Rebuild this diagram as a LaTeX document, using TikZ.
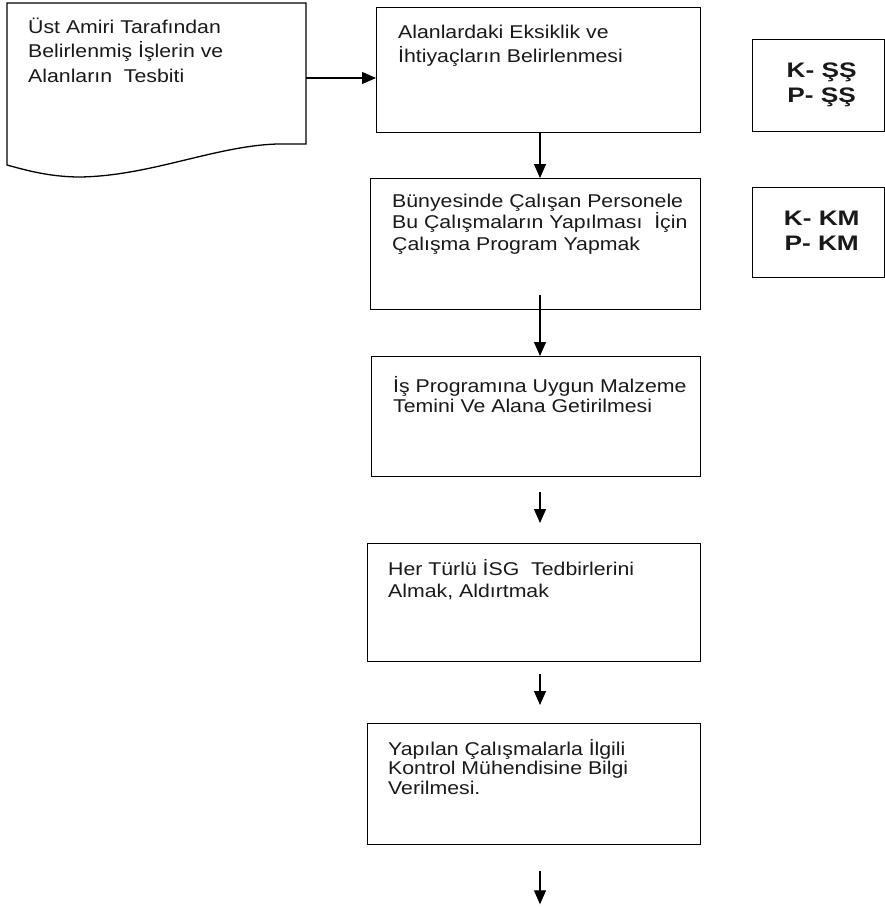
\documentclass[tikz,border=0pt]{standalone}
\usepackage{fontspec}
\setmainfont[FakeStretch=1.15]{Liberation Sans}
\newfontfamily\kfont[FakeStretch=1.25]{Liberation Sans}
\usetikzlibrary{arrows.meta,calc}
\newcommand\tlines[2]{\vtop{\baselineskip=#1pt\lineskiplimit=-50pt\relax #2}}
\newcommand\tln[1]{\hbox{#1}}
\newcommand\cln[1]{\hbox to 0pt{\hss #1\hss}}
\tikzset{
  boxed/.style={draw=black, line width=1.3pt, inner sep=0pt, anchor=north west},
  txt/.style={anchor=base west, inner sep=0pt, font=\fontsize{18.5}{21}\selectfont, text=black!90},
  ktxt/.style={anchor=base west, inner sep=0pt, font=\kfont\bfseries\fontsize{21}{25}\selectfont, text=black!90},
  arr/.style={line width=1.2pt, -{Triangle[width=12pt,length=14pt]}}
}
\begin{document}
\begin{tikzpicture}[x=1pt,y=-1pt]
\useasboundingbox (0,0) rectangle (885,908);
\fill[white] (0,0) rectangle (885,908);

% document shape
\draw[line width=1.3pt, line join=miter] (7,3) -- (306,3) -- (306,144) -- (277,144)
  .. controls (215,146) and (150,176) .. (80,177)
  .. controls (50,177) and (25,170) .. (7,165) -- cycle;
\coordinate (docR) at (306,78);

% process boxes
\node[boxed, minimum width=324pt, minimum height=125pt] (b1) at (376,7) {};
\node[boxed, minimum width=330pt, minimum height=131pt] (b2) at (370,178) {};
\node[boxed, minimum width=329pt, minimum height=120pt] (b3) at (371,356) {};
\node[boxed, minimum width=333pt, minimum height=118pt] (b4) at (367,543) {};
\node[boxed, minimum width=333pt, minimum height=121pt] (b5) at (367,723) {};

% responsibility boxes
\node[boxed, minimum width=132pt, minimum height=92pt] (k1) at (752,39) {};
\node[boxed, minimum width=132pt, minimum height=90pt] (k2) at (752,187) {};

% texts
\node[txt] (t0) at (28,33) {\tlines{24.5}{\tln{Üst Amiri Tarafından}\tln{Belirlenmiş İşlerin ve}\tln{Alanların~ Tesbiti}}};
\node[txt] (t1) at (398,38) {\tlines{24}{\tln{Alanlardaki Eksiklik ve}\tln{İhtiyaçların Belirlenmesi}}};
\node[txt] (t2) at (392,207) {\tlines{21.5}{\tln{Bünyesinde Çalışan Personele}\tln{Bu Çalışmaların Yapılması~ İçin}\tln{Çalışma Program Yapmak}}};
\node[txt] (t3) at (393,392) {\tlines{20.5}{\tln{İş Programına Uygun Malzeme}\tln{Temini Ve Alana Getirilmesi}}};
\node[txt] (t4) at (388,575) {\tlines{22}{\tln{Her Türlü İSG~ Tedbirlerini}\tln{Almak, Aldırtmak}}};
\node[txt] (t5) at (388,755) {\tlines{19.5}{\tln{Yapılan Çalışmalarla İlgili}\tln{Kontrol Mühendisine Bilgi}\tln{Verilmesi.}}};
\node[ktxt] (tk1) at (821,77) {\tlines{25}{\cln{K- ŞŞ}\cln{P- ŞŞ}}};
\node[ktxt] (tk2) at (821,225) {\tlines{25}{\cln{K- KM}\cln{P- KM}}};

% connectors
\coordinate (ax) at (540,0);
\draw[arr] (docR) -- (docR -| b1.west);
\draw[arr] (ax |- b1.south) -- (ax |- b2.north);
\draw[arr] ($(ax |- b2.south)+(0,-15)$) -- (ax |- b3.north);
\coordinate (f1a) at ($(ax |- b3.south)+(0,15)$);
\coordinate (f1b) at ($(ax |- b4.north)+(0,-20)$);
\draw[arr] (f1a) -- (f1b);
\coordinate (f2a) at ($(ax |- b4.south)+(0,12)$);
\coordinate (f2b) at ($(ax |- b5.north)+(0,-18)$);
\draw[arr] (f2a) -- (f2b);
\coordinate (f3a) at ($(ax |- b5.south)+(0,26)$);
\coordinate (f3b) at ($(ax |- b5.south)+(0,59)$);
\draw[arr] (f3a) -- (f3b);
\end{tikzpicture}
\end{document}
